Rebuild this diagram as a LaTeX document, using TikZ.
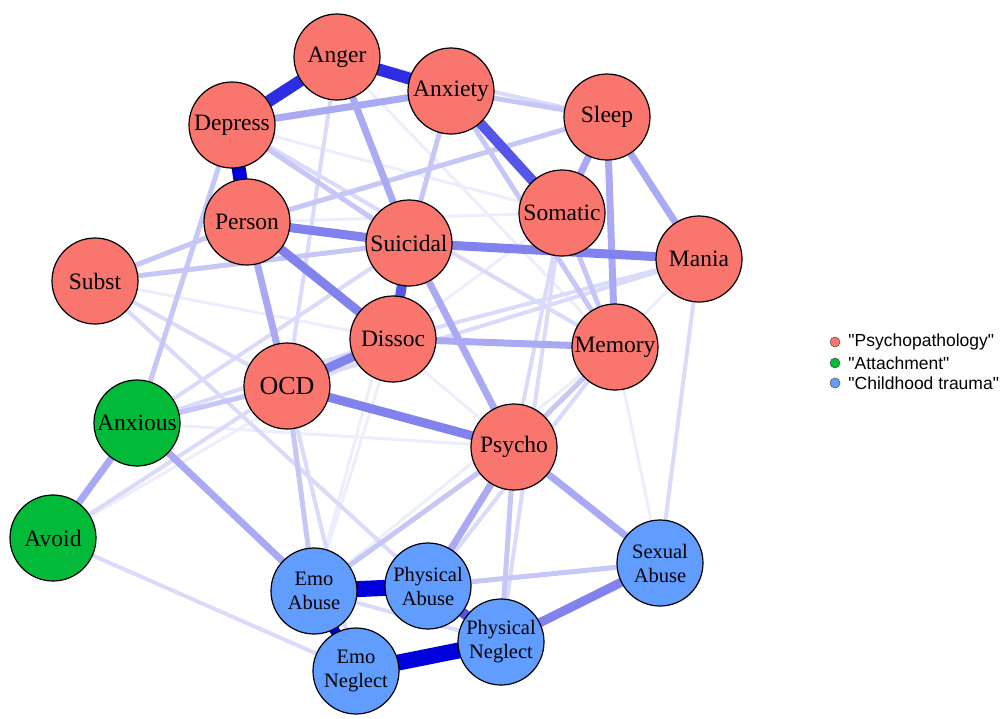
\documentclass[tikz,border=0pt]{standalone}
\usepackage{fontspec}
\setmainfont{Liberation Serif}
\newfontfamily\legendfont{Liberation Sans}[Ligatures=ResetAll]
\usetikzlibrary{positioning,backgrounds}
\definecolor{psy}{HTML}{F8766D}
\definecolor{att}{HTML}{00BA38}
\definecolor{trau}{HTML}{619CFF}

\begin{document}
\begin{tikzpicture}[x=1pt,y=-1pt,
	sym/.style={circle,draw=black,line width=1.2pt,minimum size=86pt,inner sep=0pt,
		font=\fontsize{23.5}{26}\selectfont},
	psynode/.style={sym,fill=psy},
	attnode/.style={sym,fill=att},
	traunode/.style={sym,fill=trau,align=center,font=\fontsize{20.5}{24}\selectfont},
	e1/.style={line width=16pt,draw={rgb,255:red,0;green,0;blue,220}},
	e2/.style={line width=12pt,draw={rgb,255:red,45;green,45;blue,228}},
	e3/.style={line width=10pt,draw={rgb,255:red,85;green,85;blue,232}},
	e4/.style={line width=9pt,draw={rgb,255:red,130;green,130;blue,238}},
	e5/.style={line width=7pt,draw={rgb,255:red,170;green,170;blue,244}},
	e6/.style={line width=5pt,draw={rgb,255:red,198;green,198;blue,247}},
	e7/.style={line width=4pt,draw={rgb,255:red,218;green,218;blue,250}},
	e8/.style={line width=3pt,draw={rgb,255:red,237;green,237;blue,252}},
	legdot/.style={circle,draw=black!70,line width=0.5pt,minimum size=10pt,inner sep=0pt},
	legtext/.style={font=\legendfont\fontsize{17.5}{20}\selectfont,inner sep=0pt}]
\useasboundingbox (0,0) rectangle (1008,718);

% psychopathology
\node[psynode] (anger) at (337,57) {Anger};
\node[psynode] (anxiety) at (451,91) {Anxiety};
\node[psynode] (depress) at (232,125) {Depress};
\node[psynode] (sleep) at (607,117) {Sleep};
\node[psynode] (somatic) at (562,213) {Somatic};
\node[psynode] (person) at (247,222) {Person};
\node[psynode] (suicidal) at (409,243) {Suicidal};
\node[psynode] (mania) at (699,259) {Mania};
\node[psynode] (subst) at (95,281) {Subst};
\node[psynode] (dissoc) at (393,339) {Dissoc};
\node[psynode] (memory) at (615,347) {Memory};
\node[psynode,font=\fontsize{26}{28}\selectfont] (ocd) at (287,386) {OCD};
\node[psynode] (psycho) at (514,447) {Psycho};
% attachment
\node[attnode] (anxious) at (137,423) {Anxious};
\node[attnode] (avoid) at (53,538) {Avoid};
% childhood trauma
\node[traunode] (sexab) at (660,563) {Sexual\\Abuse};
\node[traunode] (emoab) at (314,591) {Emo\\Abuse};
\node[traunode] (physab) at (428,586) {Physical\\Abuse};
\node[traunode] (physneg) at (501,642) {Physical\\Neglect};
\node[traunode] (emoneg) at (356,671) {Emo\\Neglect};

\begin{pgfonlayer}{background}
\path
	% faint
	(person.center) edge[e8] (psycho.center)
	(dissoc.center) edge[e8] (emoab.center)
	(suicidal.center) edge[e8] (emoab.center)
	(somatic.center) edge[e8] (dissoc.center)
	(person.center) edge[e8] (somatic.center)
	(anger.center) edge[e8] (memory.center)
	(anxious.center) edge[e8] (psycho.center)
	(depress.center) edge[e8] (somatic.center)
	(memory.center) edge[e8] (emoab.center)
	(mania.center) edge[e8] (psycho.center)
	(sexab.center) edge[e8] (memory.center)
	(subst.center) edge[e8] (dissoc.center)
	(avoid.center) edge[e8] (dissoc.center)
	(somatic.center) edge[e7] (psycho.center)
	(somatic.center) edge[e7] (physneg.center)
	(anger.center) edge[e7] (ocd.center)
	(anger.center) edge[e7] (sleep.center)
	(anxious.center) edge[e7] (suicidal.center)
	(anxious.center) edge[e7] (dissoc.center)
	(depress.center) edge[e7] (memory.center)
	(mania.center) edge[e7] (ocd.center)
	(mania.center) edge[e7] (dissoc.center)
	(mania.center) edge[e7] (sexab.center)
	(memory.center) edge[e7] (physab.center)
	(subst.center) edge[e7] (ocd.center)
	(subst.center) edge[e7] (physab.center)
	(avoid.center) edge[e7] (emoneg.center)
	(avoid.center) edge[e7] (ocd.center)
	(emoab.center) edge[e7] (physneg.center)
	(ocd.center) edge[e7] (emoneg.center)
	% light
	(anxiety.center) edge[e6] (suicidal.center)
	(subst.center) edge[e6] (suicidal.center)
	(anxiety.center) edge[e6] (sleep.center)
	(person.center) edge[e6] (sleep.center)
	(anxious.center) edge[e6] (ocd.center)
	(somatic.center) edge[e6] (memory.center)
	(subst.center) edge[e6] (person.center)
	(anxious.center) edge[e6] (depress.center)
	(psycho.center) edge[e6] (memory.center)
	(sexab.center) edge[e6] (physab.center)
	(psycho.center) edge[e6] (physneg.center)
	(emoab.center) edge[e6] (psycho.center)
	(ocd.center) edge[e6] (emoab.center)
	(anxiety.center) edge[e6] (memory.center)
	(depress.center) edge[e6] (suicidal.center)
	% medium
	(dissoc.center) edge[e5] (memory.center)
	(psycho.center) edge[e5] (sexab.center)
	(depress.center) edge[e5] (anxiety.center)
	(anger.center) edge[e5] (suicidal.center)
	(sleep.center) edge[e5] (somatic.center)
	(sleep.center) edge[e5] (mania.center)
	(sleep.center) edge[e5] (memory.center)
	(psycho.center) edge[e5] (physab.center)
	(person.center) edge[e5] (ocd.center)
	(anxious.center) edge[e5] (avoid.center)
	(anxious.center) edge[e5] (emoab.center)
	(suicidal.center) edge[e5] (psycho.center)
	(ocd.center) edge[e4] (dissoc.center)
	(person.center) edge[e4] (suicidal.center)
	(suicidal.center) edge[e4] (mania.center)
	(person.center) edge[e4] (dissoc.center)
	(ocd.center) edge[e4] (psycho.center)
	(physneg.center) edge[e4] (sexab.center)
	% strong
	(anxiety.center) edge[e3] (somatic.center)
	(suicidal.center) edge[e3] (dissoc.center)
	(physab.center) edge[e3] (physneg.center)
	(anger.center) edge[e2] (depress.center)
	(anger.center) edge[e2] (anxiety.center)
	(emoab.center) edge[e1,line width=10pt] (emoneg.center)
	(depress.center) edge[e1,line width=14pt] (person.center)
	(emoab.center) edge[e1] (physab.center)
	(emoneg.center) edge[e1] (physneg.center);
\end{pgfonlayer}

% legend
\node[legdot,fill=psy] (lpsy) at (835,342) {};
\node[legdot,fill=att] (latt) at (835,363) {};
\node[legdot,fill=trau] (ltrau) at (835,383) {};
\node[legtext,right=8pt of lpsy] (tpsy) {"Psychopathology"};
\node[legtext,right=8pt of latt] (tatt) {"Attachment"};
\node[legtext,right=8pt of ltrau] (ttrau) {"Childhood trauma"};
\end{tikzpicture}
\end{document}
